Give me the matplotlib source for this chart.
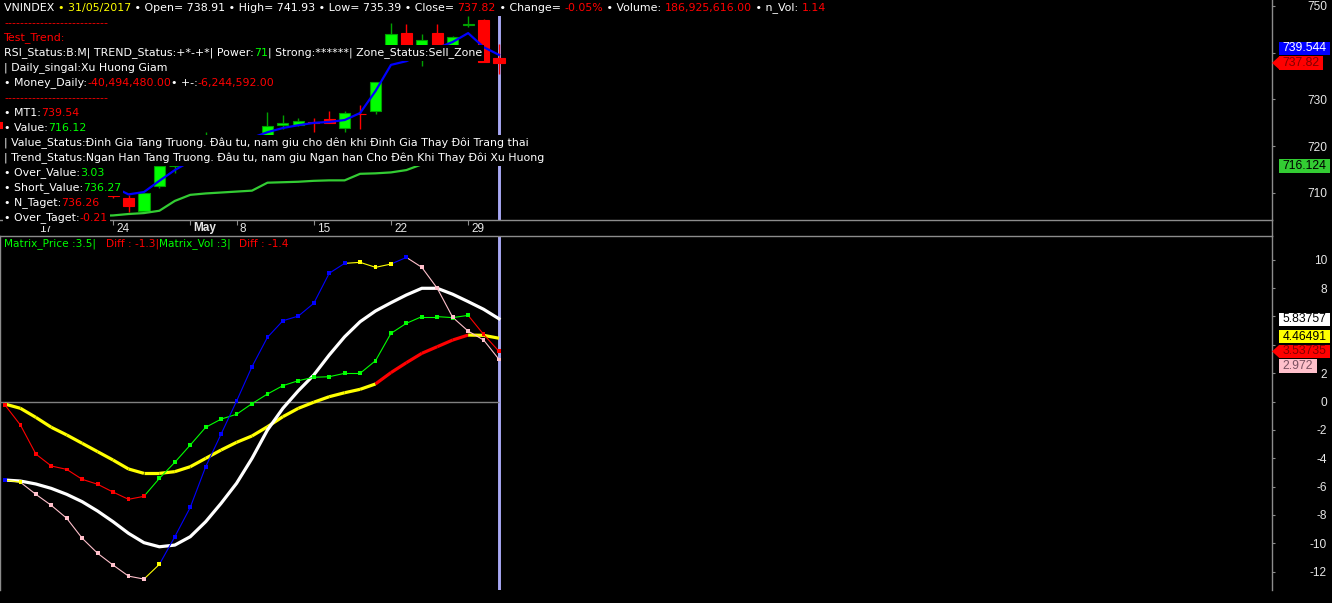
import matplotlib
matplotlib.use('Agg')
import matplotlib.pyplot as plt
import matplotlib.transforms as mtransforms
from matplotlib.collections import LineCollection
from matplotlib.font_manager import FontProperties
from matplotlib.lines import Line2D
from matplotlib.patches import Polygon, Rectangle
import numpy as np

plt.rcParams['font.family'] = ['Liberation Sans', 'DejaVu Sans']
plt.rcParams['axes.unicode_minus'] = False

# ---- VNINDEX daily bars 13/04/2017 .. 31/05/2017 ----
dates = ['13/04', '14/04', '17/04', '18/04', '19/04', '20/04', '21/04', '24/04', '25/04',
         '26/04', '27/04', '28/04', '03/05', '04/05', '05/05', '08/05', '09/05', '10/05',
         '11/05', '12/05', '15/05', '16/05', '17/05', '18/05', '19/05', '22/05', '23/05',
         '24/05', '25/05', '26/05', '29/05', '30/05', '31/05']
opens = [725.2, 723.8, 721.5, 717.8, 715.5, 713.0, 711.8, 709.5, 708.9, 706.2, 711.5,
         715.7, 716.5, 718.5, 720.0, 719.0, 720.2, 721.5, 724.6, 724.5, 725.2, 725.8,
         723.9, 727.0, 727.5, 740.0, 744.2, 741.0, 744.2, 741.5, 746.0, 747.1, 738.91]
highs = [725.8, 724.3, 722.0, 718.5, 716.0, 714.0, 712.4, 710.0, 709.6, 710.0, 716.3,
         717.0, 719.0, 723.0, 721.5, 720.5, 721.8, 727.3, 726.6, 726.0, 726.1, 727.6,
         727.5, 728.8, 733.7, 746.4, 746.1, 744.0, 746.1, 743.6, 747.9, 747.2, 741.93]
lows = [723.5, 721.0, 717.0, 715.0, 712.5, 711.0, 709.8, 709.0, 705.9, 706.1, 711.1,
        714.3, 716.2, 718.0, 718.5, 717.5, 719.5, 721.0, 723.6, 724.4, 723.0, 725.0,
        723.0, 723.7, 727.0, 739.0, 739.5, 737.2, 740.5, 740.2, 745.5, 738.1, 735.39]
closes = [724.0, 721.5, 717.8, 715.5, 713.0, 711.8, 710.2, 709.3, 707.2, 710.0, 715.8,
          715.8, 718.5, 720.0, 719.0, 720.2, 721.0, 724.3, 724.9, 725.4, 725.0, 725.0,
          727.1, 726.8, 733.7, 744.0, 740.5, 742.7, 741.5, 743.4, 746.2, 738.1, 737.82]

# MT1 (blue) starts at 24/04, Value (green) stops at 24/05
mt1_start = 7
mt1 = [711.3, 709.7, 710.2, 712.6, 714.9, 716.8, 718.5, 719.8, 720.8, 721.8, 723.0, 723.9,
       724.5, 725.0, 725.2, 725.6, 727.1, 731.8, 737.4, 738.2, 739.8, 741.0, 742.3, 744.2,
       741.2, 739.544]
value_line = [705.1, 705.1, 705.1, 705.1, 705.1, 705.1, 705.1, 705.2, 705.5, 705.7, 706.2,
              708.3, 709.6, 709.9, 710.1, 710.3, 710.5, 712.2, 712.3, 712.4, 712.6, 712.7,
              712.7, 714.1, 714.2, 714.4, 714.9, 716.124]

week_ticks = [2, 7, 12, 15, 20, 25, 30]
week_labels = ['17', '24', 'May', '8', '15', '22', '29']

# price scale: the 740 label sits under the value tags
price_ticks = [710, 720, 730, 740, 750]
price_tick_labels = ['710', '720', '730', '', '750']
matrix_ticks = [-12, -10, -8, -6, -4, -2, 0, 2, 4, 6, 8, 10]
matrix_tick_labels = ['-12', '-10', '-8', '-6', '-4', '-2', '0', '2', '', '', '8', '10']

# ---- Matrix panel ----
matrix_price = [-0.25, -1.66, -3.71, -4.55, -4.79, -5.49, -5.84, -6.39, -6.90, -6.69, -5.42,
                -4.29, -3.07, -1.82, -1.24, -0.90, -0.15, 0.53, 1.12, 1.47, 1.71, 1.75,
                1.99, 1.99, 2.88, 4.81, 5.52, 5.99, 5.99, 5.92, 6.08, 4.74, 3.53735]
matrix_price_state = 'rrrrrrrrrrgggggggggggggggggggggrr'
matrix_vol = [-5.54, -5.70, -6.55, -7.33, -8.24, -9.65, -10.71, -11.54, -12.32, -12.53,
              -11.49, -9.54, -7.47, -4.60, -2.29, 0.03, 2.46, 4.53, 5.70, 6.03, 6.93, 9.05,
              9.75, 9.82, 9.47, 9.70, 10.17, 9.47, 7.99, 5.94, 4.97, 4.34, 2.972]
matrix_vol_state = 'byppppppppybbbbbbbbbbbbyyybpppppp'
price_avg = [-0.18, -0.48, -1.12, -1.82, -2.36, -2.95, -3.54, -4.13, -4.76, -5.07, -5.07,
             -4.95, -4.60, -4.01, -3.42, -2.88, -2.43, -1.78, -1.07, -0.48, -0.05, 0.34,
             0.62, 0.86, 1.24, 2.04, 2.74, 3.40, 3.87, 4.34, 4.69, 4.67, 4.46491]
price_avg_state = 'yyyyyyyyyyyyyyyyyyyyyyyyyrrrrrryy'
vol_avg = [-5.54, -5.61, -5.82, -6.13, -6.55, -7.07, -7.73, -8.48, -9.30, -9.96, -10.25,
           -10.13, -9.54, -8.48, -7.18, -5.77, -4.01, -2.01, -0.48, 0.76, 1.87, 3.28,
           4.57, 5.63, 6.39, 6.97, 7.52, 7.99, 7.99, 7.57, 7.05, 6.51, 5.83757]

text_lines = [
    [("VNINDEX ", 'w'), ("\u2022 31/05/2017", 'y'),
     (" \u2022 Open= 738.91 \u2022 High= 741.93 \u2022 Low= 735.39 \u2022 Close= ", 'w'),
     ("737.82", 'r'), (" \u2022 Change= ", 'w'), ("-0.05%", 'r'), (" \u2022 Volume: ", 'w'),
     ("186,925,616.00", 'r'), (" \u2022 n_Vol: ", 'w'), ("1.14", 'r')],
    [("--------------------------", 'r')],
    [("Test_Trend:", 'r')],
    [("RSI_Status:B:M| TREND_Status:+*-+*| Power:", 'w'), ("71", 'g'),
     ("| Strong:******| Zone_Status:Sell_Zone", 'w')],
    [("| Daily_singal:Xu Huong Giam", 'w')],
    [("\u2022 Money_Daily:", 'w'), ("-40,494,480.00", 'r'), ("\u2022 +-:", 'w'), ("-6,244,592.00", 'r')],
    [("--------------------------", 'r')],
    [("\u2022 MT1:", 'w'), ("739.54", 'r')],
    [("\u2022 Value:", 'w'), ("716.12", 'g')],
    [("| Value_Status:\u0110inh Gia Tang Truong. \u0110\u00e2u tu, nam giu cho d\u00ean khi \u0110inh Gia Thay \u0110\u00f4i Trang thai", 'w')],
    [("| Trend_Status:Ngan Han Tang Truong. \u0110\u00e2u tu, nam giu Ngan han Cho \u0110\u00ean Khi Thay \u0110\u00f4i Xu Huong", 'w')],
    [("\u2022 Over_Value:", 'w'), ("3.03", 'g')],
    [("\u2022 Short_Value:", 'w'), ("736.27", 'g')],
    [("\u2022 N_Taget:", 'w'), ("736.26", 'r')],
    [("\u2022 Over_Taget:", 'w'), ("-0.21", 'r')],
]
matrix_title = [("Matrix_Price :3.5|", 'g', 4), ("Diff : -1.3|", 'r', 106),
                ("Matrix_Vol :3|", 'g', 159), ("Diff : -1.4", 'r', 239)]

C = {'w': '#ffffff', 'r': '#ff0000', 'g': '#00ff00', 'y': '#ffff00',
     'b': '#0000ff', 'p': '#ffc0cb'}
GRAY = '#8c8c8c'
LAV = '#a8a8f4'

W, H = 1332, 603
fig = plt.figure(figsize=(W / 100, H / 100), dpi=100, facecolor='black')


def px_axes(l, t, r, b):
    return fig.add_axes([l / W, 1 - b / H, (r - l) / W, (b - t) / H])


ax1 = px_axes(0, 0, 1272, 220)
ax2 = px_axes(0, 236, 1272, 590)
x = np.arange(len(dates))
for ax in (ax1, ax2):
    ax.set_facecolor('black')
    ax.set_xlim(-0.324, 82.07)
    for sp in ax.spines.values():
        sp.set_color(GRAY)
        sp.set_linewidth(1.0)
    ax.yaxis.tick_right()
    ax.tick_params(axis='y', direction='out', length=2.2, width=0.8, color=GRAY,
                   labelcolor='#e6e6e6', labelsize=8.6, pad=37.4)
    ax.axvline(x[-1], color=LAV, lw=2.1, zorder=0.5)

ax1.set_ylim(704.22, 751.28)
ax2.set_ylim(-13.30, 11.68)
ax1.spines['top'].set_visible(False)
ax1.spines['left'].set_visible(False)
ax2.spines['bottom'].set_visible(False)
ax1.set_yticks(price_ticks)
ax1.set_yticklabels(price_tick_labels)
ax2.set_yticks(matrix_ticks)
ax2.set_yticklabels(matrix_tick_labels)
for ax in (ax1, ax2):
    plt.setp(ax.get_yticklabels(), ha='right')

# candles
bw = 0.72
for i in x:
    o, h, l, c = opens[i], highs[i], lows[i], closes[i]
    up = c >= o
    wick = '#00a000' if up else '#ff0000'
    fill = '#00ff00' if up else '#ff0000'
    ax1.vlines(i, l, h, color=wick, lw=1.0, zorder=2)
    ax1.add_patch(Rectangle((i - bw / 2, min(o, c)), bw, abs(c - o), fc=fill,
                            ec=wick, lw=0.8, zorder=3))

ax1.plot(x[mt1_start:], mt1, color='#0000ff', lw=1.6, zorder=4)
ax1.plot(x[:len(value_line)], value_line, color='#33cc33', lw=1.6, zorder=4)

ax1.set_xticks(week_ticks)
ax1.tick_params(axis='x', direction='out', length=3.6, width=0.8, color=GRAY,
                labelbottom=False)
blend = mtransforms.blended_transform_factory(ax1.transData, ax1.transAxes)
for t, lab in zip(week_ticks, week_labels):
    ax1.text(t + 3 / 15.44, -8.5 / 220, lab, transform=blend, ha='left', va='center',
             color='#e6e6e6', fontsize=8.5, clip_on=False,
             fontweight='bold' if lab == 'May' else 'normal')
ax2.set_xticks([])

# matrix panel
ax2.hlines(0, -0.324, x[-1], color='#808080', lw=1.0, zorder=1)


def colored_line(ax, ys, states, lw, z, markers=False):
    pts = np.column_stack([x, ys])
    segs = np.stack([pts[:-1], pts[1:]], axis=1)
    cols = [C[s] for s in states]
    ax.add_collection(LineCollection(segs, colors=cols[1:], linewidths=lw, zorder=z))
    if markers:
        ax.scatter(x, ys, c=cols, marker='s', s=7.5, linewidths=0, zorder=z + 0.5)


colored_line(ax2, price_avg, price_avg_state, 2.3, 2)
ax2.plot(x, vol_avg, color='white', lw=2.3, zorder=2.1)
colored_line(ax2, matrix_price, matrix_price_state, 0.8, 3, markers=True)
colored_line(ax2, matrix_vol, matrix_vol_state, 0.8, 3.1, markers=True)

# text block (opaque line backgrounds hide what is under them, as in the original)
fp = FontProperties(family=['DejaVu Sans'], size=7.9)
title_fp = FontProperties(family=['DejaVu Sans'], size=7.55)
renderer = fig.canvas.get_renderer()


def tw(s, prop=fp):
    return renderer.get_text_width_height_descent(s, prop, ismath=False)[0]


for k, pieces in enumerate(text_lines):
    yp = 8 + 15 * k
    full = ''.join(s for s, _ in pieces)
    fig.add_artist(Rectangle((3 / W, 1 - (yp + 7.6) / H), (tw(full) + 3) / W, 15.2 / H,
                             transform=fig.transFigure, fc='black', ec='none', zorder=4))
    prefix = ''
    for s, c in pieces:
        off = tw(prefix + s) - tw(s)
        fig.text((4 + off) / W, 1 - yp / H, s, color=C[c], fontproperties=fp,
                 ha='left', va='center', zorder=5)
        prefix += s

for s, c, xp in matrix_title:
    fig.text(xp / W, 1 - 244 / H, s, color=C[c], fontproperties=title_fp, ha='left',
             va='center')

# right side value tags
tag_fp = FontProperties(family=['Liberation Sans', 'DejaVu Sans'], size=8.8)


def tag(ax, val, fc, tc, dy=0.0, arrow=False, z=7):
    # dy: shift downwards in pixels to keep tags apart
    s = '%g' % val
    yd = ax.transData.transform((0, val))[1] - dy
    wbox = min(tw(s, tag_fp) + 7, W - 1279)
    fig.add_artist(Rectangle((1279 / W, (yd - 6.8) / H), wbox / W, 13.6 / H,
                             transform=fig.transFigure, fc=fc, ec='none', zorder=z))
    if arrow:
        fig.add_artist(Polygon([(1272 / W, yd / H), (1279.5 / W, (yd + 6.8) / H),
                                (1279.5 / W, (yd - 6.8) / H)], closed=True,
                               transform=fig.transFigure, fc=fc, ec='none', zorder=z))
    fig.text(1282.5 / W, yd / H, s, color=tc, fontproperties=tag_fp, ha='left',
             va='center', zorder=z + 0.5)


tag(ax1, mt1[-1], '#0000ff', 'white', dy=-6.4)
tag(ax1, closes[-1], '#ff0000', '#800000', arrow=True)
tag(ax1, value_line[-1], '#33cc33', 'black', dy=1.7)
tag(ax2, matrix_vol[-1], C['p'], '#7a5060', dy=6.6, z=7)
tag(ax2, vol_avg[-1], 'white', 'black', dy=0.7, z=8)
tag(ax2, price_avg[-1], '#ffff00', 'black', dy=-1.7, z=8)
tag(ax2, matrix_price[-1], '#ff0000', '#800000', arrow=True, z=9)

# axis line through the date strip
fig.add_artist(Line2D([1272 / W, 1272 / W], [1 - 220 / H, 1 - 236 / H],
                      transform=fig.transFigure, color=GRAY, lw=1.0))

fig.savefig('out.png', dpi=100, facecolor='black')
